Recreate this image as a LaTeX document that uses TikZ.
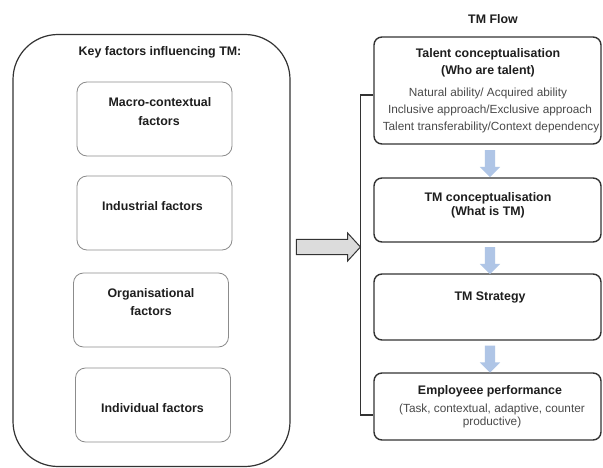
\documentclass[tikz,border=0pt]{standalone}
\usepackage{fontspec}
\setmainfont{Liberation Sans}
\usetikzlibrary{shapes.arrows,calc}
\definecolor{edgedark}{HTML}{333333}
\definecolor{edgelight}{HTML}{8C8C8C}
\definecolor{txt}{HTML}{1E1E1E}
\definecolor{txtlight}{HTML}{4A4A4A}
\definecolor{flowblue}{HTML}{AFC5E6}
\definecolor{arrowgray}{HTML}{DCDCDC}
\tikzset{
  outerbox/.style={draw=edgedark, line width=1.2pt, rounded corners=45pt},
  factorbox/.style={draw=edgelight, line width=0.8pt, rounded corners=10pt, minimum width=155pt, minimum height=74pt},
  flowbox/.style={draw=edgedark, line width=1.4pt, rounded corners=8pt, minimum width=227pt},
  boldtxt/.style={font=\fontsize{12.4}{14}\selectfont\bfseries, text=txt, anchor=mid, inner sep=0pt},
  smalltxt/.style={font=\fontsize{11.8}{13}\selectfont, text=txtlight, anchor=mid, inner sep=0pt},
  downarrow/.style={single arrow, shape border rotate=270, fill=flowblue, draw=none, minimum height=27pt, minimum width=20pt, inner sep=5pt, single arrow head extend=5pt},
  bigarrow/.style={single arrow, fill=arrowgray, draw=edgedark, line width=1pt, minimum height=64pt, minimum width=27pt, inner sep=7pt, single arrow head extend=6.5pt, single arrow tip angle=95},
  bracketline/.style={draw=edgedark, line width=1.2pt}
}
\begin{document}
\begin{tikzpicture}[x=1pt,y=-1pt]
\useasboundingbox[fill=white] (0,0) rectangle (603,468);

% left panel
\node[outerbox, minimum width=277pt, minimum height=432pt] (outer) at (151.5,250.5) {};
\node[boldtxt] (keytitle) at (160,53) {Key factors influencing TM:};

\node[factorbox] (macro) at (154.5,119) {};
\node[boldtxt] (macroA) at (160,104) {Macro-contextual};
\node[boldtxt] (macroB) at (159,123) {factors};

\node[factorbox] (industrial) at (154.5,213) {};
\node[boldtxt] (industrialT) at (152.5,208) {Industrial factors};

\node[factorbox] (organisational) at (151,310) {};
\node[boldtxt] (orgA) at (151,295) {Organisational};
\node[boldtxt] (orgB) at (151,313) {factors};

\node[factorbox] (individual) at (153,405) {};
\node[boldtxt] (individualT) at (152.5,410) {Individual factors};

% big arrow
\node[bigarrow] (bigarr) at (325,247) {};

% right panel
\node[boldtxt] (flowtitle) at (493,21) {TM Flow};

\node[flowbox, minimum height=107pt] (talent) at (487.5,90.5) {};
\node[boldtxt] (talentA) at (488,55) {Talent conceptualisation};
\node[boldtxt] (talentB) at (488,72) {(Who are talent)};
\node[smalltxt] (talentC) at (488,94) {Natural ability/ Acquired ability};
\node[smalltxt] (talentD) at (490,111) {Inclusive approach/Exclusive approach};
\node[smalltxt] (talentE) at (491,128) {Talent transferability/Context dependency};

\node[flowbox, minimum height=64pt] (tmconc) at (487.5,210) {};
\node[boldtxt] (tmconcA) at (488,199) {TM conceptualisation};
\node[boldtxt] (tmconcB) at (488,213) {(What is TM)};

\node[flowbox, minimum height=66pt] (strategy) at (487.5,307) {};
\node[boldtxt] (strategyT) at (490,298) {TM Strategy};

\node[flowbox, minimum height=67pt] (perf) at (487.5,406.5) {};
\node[boldtxt] (perfA) at (490,392) {Employeee performance};
\node[smalltxt] (perfB) at (492,410) {(Task, contextual, adaptive, counter};
\node[smalltxt] (perfC) at (492,423) {productive)};

% blue flow arrows
\node[downarrow] (arr1) at ($(talent.south)!0.5!(tmconc.north)+(2.5,0)$) {};
\node[downarrow] (arr2) at ($(tmconc.south)!0.5!(strategy.north)+(2.5,0)$) {};
\node[downarrow] (arr3) at ($(strategy.south)!0.5!(perf.north)+(2.5,0)$) {};

% bracket
\draw[bracketline] ([yshift=-4.5pt]talent.west) -- ++(-13,0) |- ([yshift=-8.5pt]perf.west);
\end{tikzpicture}
\end{document}
